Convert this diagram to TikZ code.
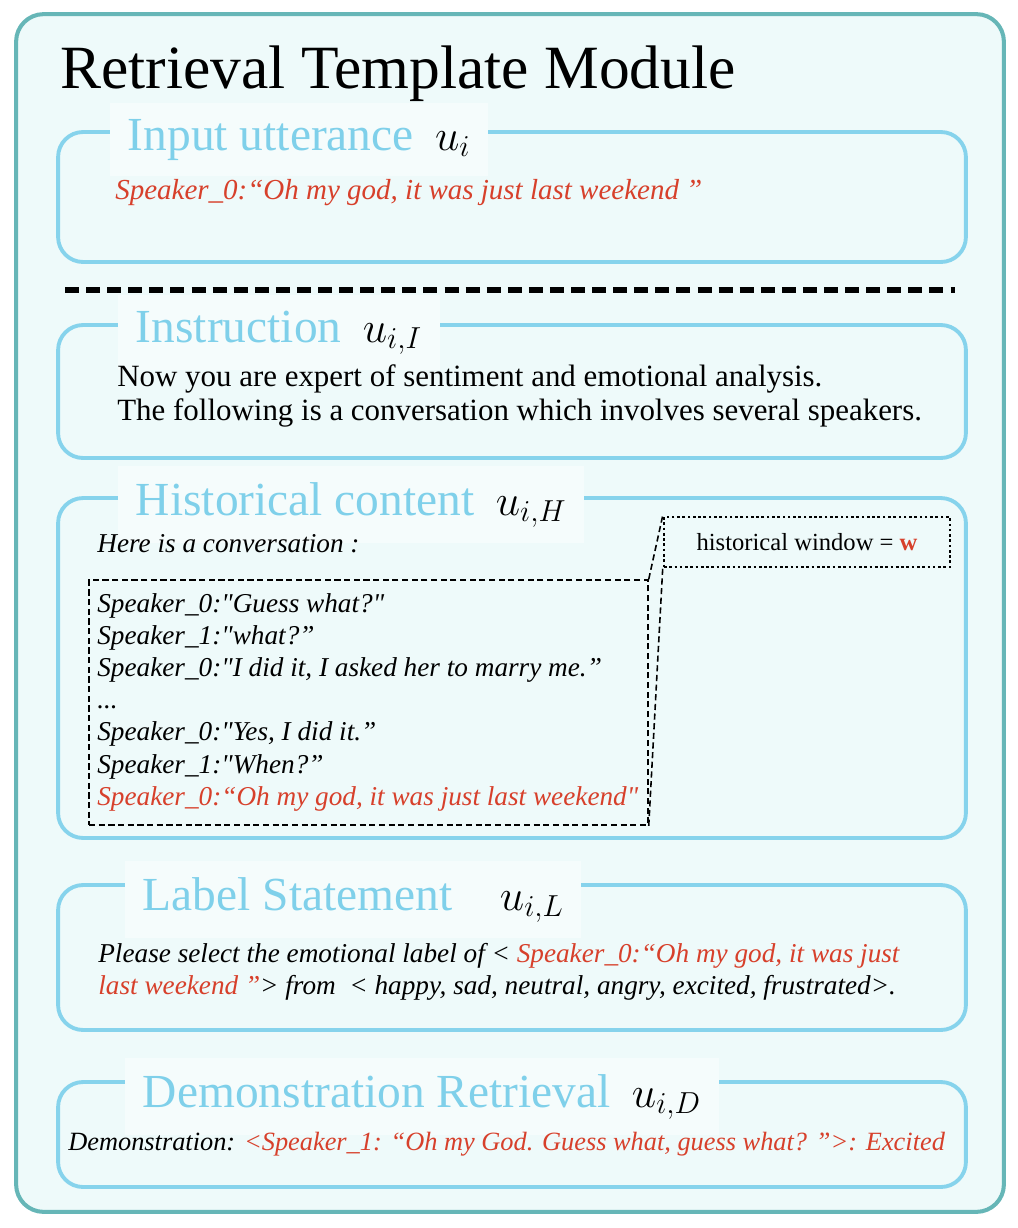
\documentclass[tikz,border=0pt]{standalone}
\usepackage{fontspec}
\setmainfont{Liberation Serif}
\usepackage{xcolor}
\usetikzlibrary{positioning}
\definecolor{ModTeal}{HTML}{66B6B7}
\definecolor{ModFill}{HTML}{EEFAFA}
\definecolor{SecBlue}{HTML}{86D3EC}
\definecolor{SecTitle}{HTML}{7FD0EA}
\definecolor{SecBg}{HTML}{F5FCFC}
\definecolor{UttRed}{HTML}{D7402B}
\newcommand{\utt}[1]{\textcolor{UttRed}{#1}}
\newcommand{\sq}{\textquotedbl}

\begin{document}
\begin{tikzpicture}[x=0.02cm,y=-0.02cm, every node/.style={inner sep=0pt},
  module/.style={draw=ModTeal,line width=2.3pt,fill=ModFill,rounded corners=0.55cm,minimum width=19.76cm,minimum height=23.96cm},
  sec/.style={draw=SecBlue,line width=2.2pt,rounded corners=0.5cm,minimum width=18.16cm},
  sectitle/.style={anchor=base west,fill=SecBg,inner xsep=10pt,inner ysep=9pt,font=\fontsize{27}{30}\selectfont},
  body/.style={anchor=base west,font=\fontsize{17.6}{19.3}\selectfont},
  talk/.style={anchor=base west,align=left,font=\itshape\fontsize{15.5}{18.3}\selectfont},
  sepline/.style={line width=3pt,dash pattern=on 8pt off 4pt},
  convbox/.style={draw,line width=0.9pt,dash pattern=on 3.5pt off 2pt,minimum width=11.18cm,minimum height=4.9cm},
  winbox/.style={draw,line width=1.5pt,dash pattern=on 1.5pt off 1.5pt,minimum width=5.72cm,minimum height=1cm,font=\fontsize{14}{16}\selectfont},
  callout/.style={line width=0.9pt,dash pattern=on 3.5pt off 2pt}]
\fill[white] (0,0) rectangle (1018,1228);
\useasboundingbox (0,0) rectangle (1018,1228);
\node[module] (module) at (510,613) {};
\node[anchor=base west,font=\fontsize{35}{40}\selectfont] (modtitle) at (60,88) {Retrieval Template Module};

% input utterance
\node[sec,minimum height=2.6cm] (inbox) at (512,197) {};
\node[sectitle] (intitle) at (110,150) {\textcolor{SecTitle}{Input utterance}\hspace{0.45em}$u_i$\hspace{15pt}};
\node[talk,font=\itshape\fontsize{16.5}{19}\selectfont,text=UttRed] (inutt) at (115,199) {Speaker\_0:“Oh my god, it was just last weekend ”};

\coordinate (sepl) at (65,290);
\coordinate (sepr) at (955,290);
\draw[sepline] (sepl) -- (sepr);

% instruction
\node[sec,minimum height=2.66cm] (instbox) at (512,391.5) {};
\node[sectitle] (insttitle) at (118,342) {\textcolor{SecTitle}{Instruction}\hspace{0.45em}$u_{i,I}$\hspace{15pt}};
\node[body] (inst1) at (117,386) {Now you are expert of sentiment and emotional analysis.};
\node[body] (inst2) at (117,420) {The following is a conversation which involves several speakers.};

% historical content
\node[sec,minimum height=6.8cm] (histbox) at (512,668) {};
\node[sectitle] (histtitle) at (118,515) {\textcolor{SecTitle}{Historical content}\hspace{0.45em}$u_{i,H}$\hspace{15pt}};
\node[talk] (histhere) at (97,552) {Here is a conversation :};
\node[convbox] (conv) at (368.5,702.5) {};
\node[talk,anchor=north west] (convtext) at (97,593) {Speaker\_0:\sq Guess what?\sq\\
Speaker\_1:\sq what?”\\
Speaker\_0:\sq I did it, I asked her to marry me.”\\
...\\
Speaker\_0:\sq Yes, I did it.”\\
Speaker\_1:\sq When?”\\
\utt{Speaker\_0:“Oh my god, it was just last weekend\sq}};
\node[winbox] (win) at (807,542) {historical window = \textcolor{UttRed}{\textbf{w}}};
\draw[callout] (conv.north east) -- (win.north west);
\draw[callout] (conv.south east) -- (win.south west);

% label statement
\node[sec,minimum height=2.9cm] (lblbox) at (512,957.5) {};
\node[sectitle] (lbltitle) at (125,910) {\textcolor{SecTitle}{Label Statement}\hspace{1em}$u_{i,L}$\hspace{15pt}};
\node[talk] (lbl1) at (98,962) {Please select the emotional label of < \utt{Speaker\_0:“Oh my god, it was just}};
\node[talk] (lbl2) at (98,994) {\utt{last weekend ”}> from \ < happy, sad, neutral, angry, excited, frustrated>.};

% demonstration retrieval
\node[sec,minimum height=2.1cm] (demobox) at (512,1134.5) {};
\node[sectitle] (demotitle) at (125,1107) {\textcolor{SecTitle}{Demonstration Retrieval}\hspace{0.45em}$u_{i,D}$\hspace{15pt}};
\node[talk,font=\itshape\fontsize{15}{18}\selectfont] (demo) at (68,1150) {Demonstration: \utt{<Speaker\_1: “Oh my God. Guess what, guess what? ”>: Excited}};
\end{tikzpicture}
\end{document}
